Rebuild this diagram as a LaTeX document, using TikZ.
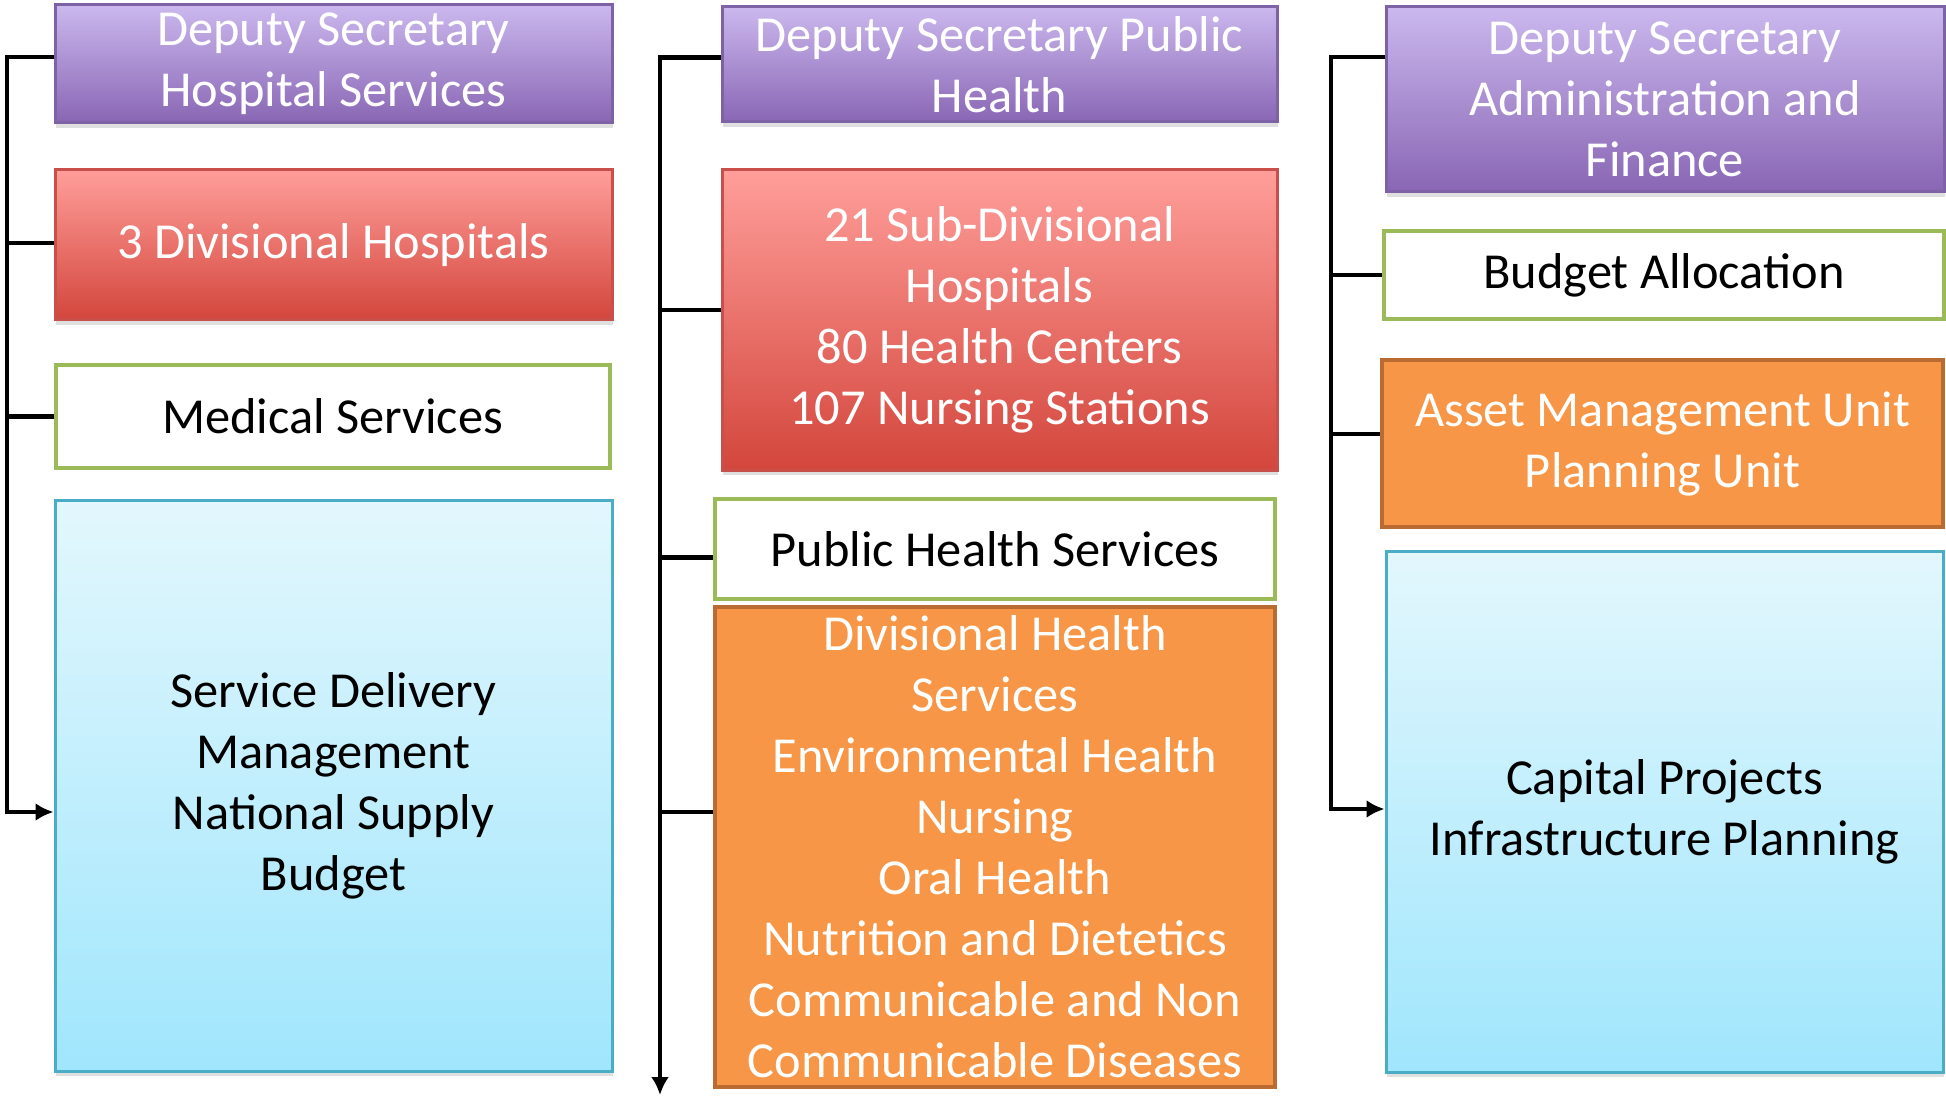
\documentclass[tikz,border=0pt]{standalone}
\usepackage{fontspec}
\setmainfont{Carlito}
\usetikzlibrary{arrows.meta,shadows}

\definecolor{purpleTop}{HTML}{CBB8EE}
\definecolor{purpleBot}{HTML}{8966B4}
\definecolor{purpleLine}{HTML}{7D62A6}
\definecolor{redTop}{HTML}{FF9E9A}
\definecolor{redMid}{HTML}{F8948E}
\definecolor{redBot}{HTML}{D3463C}
\definecolor{redLine}{HTML}{C9504A}
\definecolor{greenLine}{HTML}{9BBB59}
\definecolor{orangeFill}{HTML}{F79646}
\definecolor{orangeLine}{HTML}{B96B31}
\definecolor{blueTop}{HTML}{E3F7FD}
\definecolor{blueBot}{HTML}{A0E6FD}
\definecolor{blueLine}{HTML}{4BACC6}

\begin{document}
\begin{tikzpicture}
        [%%%%%%%%%%%%%%%%%%%%%%%%%%%%%%
        x=0.5pt,y=-0.5pt,
        box/.style={rectangle,line width=1.5pt,align=center,inner sep=0pt,
          font=\fontsize{25.2}{30.5}\selectfont},
        deputy/.style={box,draw=purpleLine,top color=purpleTop,bottom color=purpleBot,text=white,
          drop shadow={shadow xshift=0.5pt,shadow yshift=-2.5pt,opacity=0.25}},
        hosp/.style={box,draw=redLine,top color=redTop,middle color=redMid,bottom color=redBot,text=white,
          drop shadow={shadow xshift=0.5pt,shadow yshift=-2.5pt,opacity=0.25}},
        service/.style={box,draw=greenLine,fill=white,line width=2pt},
        unit/.style={box,draw=orangeLine,fill=orangeFill,text=white,line width=2pt},
        detail/.style={box,draw=blueLine,top color=blueTop,bottom color=blueBot,
          drop shadow={shadow xshift=0.5pt,shadow yshift=-2.5pt,opacity=0.25}},
        link/.style={line width=2.4pt,black},
        tip/.style={-{Latex[length=9pt,width=9pt]}},
        ]%%%%%%%%%%%%%%%%%%%%%%%%%%%%%%

        \useasboundingbox (0,0) rectangle (1946,1096);

        % hospital services
        \node[deputy,minimum width=278.5pt,minimum height=59pt] (hs) at (333.5,64) {Deputy Secretary\\Hospital Services};
        \node[hosp,minimum width=278.5pt,minimum height=75pt] (dh) at (333.5,245) {3 Divisional Hospitals};
        \node[service,minimum width=277pt,minimum height=51.5pt] (ms) at (332.5,416.5) {Medical Services};
        \node[detail,minimum width=278.5pt,minimum height=285.5pt] (sd) at (333.5,785.5) {Service Delivery\\Management\\National Supply\\Budget};

        % public health
        \node[deputy,minimum width=277.5pt,minimum height=57.5pt] (ph) at (999.5,64.5) {Deputy Secretary Public\\Health};
        \node[hosp,minimum width=277.5pt,minimum height=150pt] (sh) at (999.5,320) {21 Sub-Divisional\\Hospitals\\80 Health Centers\\107 Nursing Stations};
        \node[service,minimum width=280pt,minimum height=50pt] (ps) at (995,549) {Public Health Services};
        \node[unit,minimum width=280pt,minimum height=240pt] (dv) at (995,847) {Divisional Health\\Services\\Environmental Health\\Nursing\\Oral Health\\Nutrition and Dietetics\\Communicable and Non\\Communicable Diseases};

        % administration and finance
        \node[deputy,minimum width=279pt,minimum height=92.5pt] (af) at (1665,99.5) {Deputy Secretary\\Administration and\\Finance};
        \node[service,minimum width=280pt,minimum height=44pt] (ba) at (1664,275) {Budget Allocation};
        \node[unit,minimum width=280.5pt,minimum height=83.5pt] (am) at (1662.5,443.5) {Asset Management Unit\\Planning Unit};
        \node[detail,minimum width=278.5pt,minimum height=260.5pt] (cp) at (1664.5,811.5) {Capital Projects\\Infrastructure Planning};

        % spines
        \coordinate (lb) at (7,812);
        \coordinate (mb) at (660,1095);
        \coordinate (rb) at (1331,809);

        \draw[link,tip] ([yshift=3.5pt]hs.west) -| (lb) -- (sd.west |- lb);
        \draw[link,tip] ([yshift=3.5pt]ph.west) -| (mb);
        \draw[link,tip] ([yshift=21.25pt]af.west) -| (rb) -- (cp.west |- rb);

        % branches
        \foreach \n/\s in {dh/1,ms/0}{
          \coordinate (b\n) at ([yshift=\s pt]\n.west);
          \draw[link] (b\n) -- (b\n -| lb);
        }
        \foreach \n/\s in {sh/5,ps/-4.25,dv/17.5}{
          \coordinate (b\n) at ([yshift=\s pt]\n.west);
          \draw[link] (b\n) -- (b\n -| mb);
        }
        \foreach \n/\s in {ba/0,am/4.75}{
          \coordinate (b\n) at ([yshift=\s pt]\n.west);
          \draw[link] (b\n) -- (b\n -| rb);
        }

      \end{tikzpicture}
\end{document}
